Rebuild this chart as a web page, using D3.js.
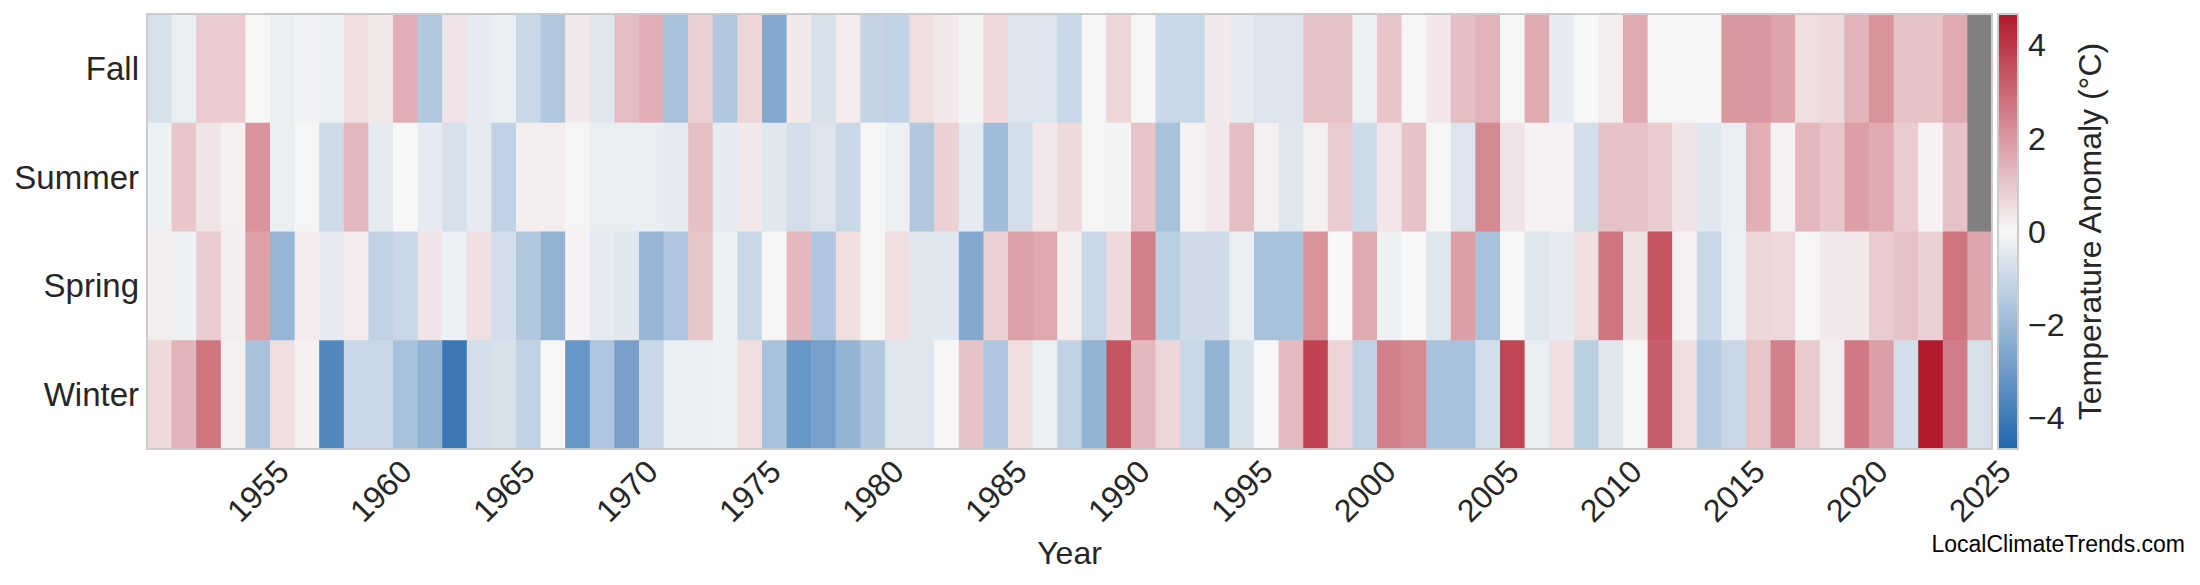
<!DOCTYPE html>
<html>
<head>
<meta charset="UTF-8">
<script src="https://cdn.jsdelivr.net/npm/d3@7"></script>
<style>
  body{margin:0;background:#fff;}
  text{font-family:"Liberation Sans",Arial,sans-serif;fill:#262626;}
</style>
</head>
<body>
<svg id="chart" width="2200" height="585"></svg>
<script>
// years 1951..2025
var years = d3.range(1951, 2026);
var seasons = ["Fall", "Summer", "Spring", "Winter"];
var tickYears = [1955,1960,1965,1970,1975,1980,1985,1990,1995,2000,2005,2010,2015,2020,2025];
var cbTicks = [-4,-2,0,2,4];

// anomalies (°C), one value per year, null = no data
var fall = [-0.7,-0.3,0.9,0.9,0,-0.3,-0.15,-0.2,0.5,0.3,1.5,-1.5,0.4,-0.4,-0.3,-1.0,-1.5,0.3,-0.5,
  1.2,1.5,-1.7,0.8,-1.5,0.7,-2.5,0.3,-0.7,0.25,-1.1,-1.2,0.5,0.3,-0.1,0.6,-0.6,-0.6,-1.0,
  -0.05,0.7,-0.05,-1.0,-1.0,0.3,-0.4,-0.6,-0.6,1.1,1.1,-0.25,1.05,0.05,0.35,1.2,1.4,-0.05,1.6,
  -0.4,0,0.2,1.6,-0.05,-0.05,-0.05,2.0,2.0,1.75,0.55,0.6,1.4,2.1,1.1,1.1,1.6,null];
var summer = [-0.2,1.0,0.4,0.15,2.1,-0.3,-0.05,-0.9,1.3,-0.4,0,-0.4,-0.7,-0.4,-1.2,0.2,0.2,-0.05,-0.3,
  -0.3,-0.3,-0.4,1.15,-0.4,0.3,-0.5,-0.8,-0.6,-1.0,0.05,-0.25,-1.5,0.8,-0.4,-1.9,-0.8,0.3,0.6,
  -0.05,-0.1,1.05,-1.7,0.1,0.3,1.2,0.15,-0.55,0.15,0.9,-0.9,0.35,1.1,-0.05,-0.6,2.3,0.4,0.1,
  0.1,-0.8,1.1,1.1,0.9,0.4,-0.5,-0.3,1.5,0.1,1.35,1.0,1.85,1.6,0.9,0.1,1.1,null];
var spring = [0.2,-0.2,0.9,0.2,1.8,-2.1,0.25,-0.4,0.25,-1.2,-1.0,0.4,-0.25,0.5,-0.8,-1.5,-2.2,0.1,-0.4,
  -0.5,-2.1,-1.6,1.0,-0.2,-1.0,-0.05,1.3,-1.6,0.5,-0.05,0.5,-0.5,-0.5,-2.5,0.8,1.8,1.65,0.2,
  -1.0,0.6,2.5,-1.3,-0.85,-0.85,-0.3,-1.7,-1.7,2.1,0,1.6,-0.2,0,-0.55,1.85,-1.7,0,-0.55,
  -0.4,0.5,2.7,0.45,3.4,0.1,-1.0,-0.25,0.7,0.65,-0.05,0.3,0.3,0.9,1.1,0.8,2.7,1.7];
var winter = [0.6,1.4,2.7,0.15,-1.7,0.5,0.15,-3.6,-1.0,-1.0,-1.7,-2.2,-4.1,-0.8,-0.7,-1.2,0,-3.1,-1.6,
  -2.8,-1.0,-0.3,-0.3,-0.2,0.5,-1.7,-3.1,-2.8,-2.2,-1.5,-0.55,-0.55,-0.05,1.1,-1.6,0.55,-0.25,-1.2,
  -2.2,3.4,1.3,0.7,-1.0,-2.2,-0.7,0,1.25,3.75,0.75,-1.2,2.5,2.3,-1.7,-1.7,-0.8,3.7,-0.3,
  0.5,-1.3,-0.55,-0.05,3.2,0.5,-1.4,-1.0,1.0,2.5,0.95,0.2,2.65,1.85,-0.8,4.6,2.55,-0.7];
var seriesBySeason = {Fall: fall, Summer: summer, Spring: spring, Winter: winter};

var vmax = 4.67;
var margin = {left:147, top:14, right:1992, bottom:449};

var svg = d3.select("#chart");
var x = d3.scaleBand().domain(years).range([margin.left, margin.right]);
var y = d3.scaleBand().domain(seasons).range([margin.top, margin.bottom]);
var color = d3.scaleLinear().domain([-vmax, 0, vmax])
    .range(["#2166ac", "#f7f7f7", "#b2182b"]).clamp(true);

var cells = [];
seasons.forEach(function(s){
    seriesBySeason[s].forEach(function(v, i){
        cells.push({season:s, year:years[i], value:v});
    });
});

svg.append("g").selectAll("rect").data(cells).enter().append("rect")
    .attr("x", function(d){ return x(d.year); })
    .attr("y", function(d){ return y(d.season); })
    .attr("width", x.bandwidth() + 0.6)
    .attr("height", y.bandwidth() + 0.6)
    .attr("fill", function(d){ return d.value === null ? "#808080" : color(d.value); });

svg.append("rect")
    .attr("x", margin.left).attr("y", margin.top)
    .attr("width", margin.right - margin.left).attr("height", margin.bottom - margin.top)
    .attr("fill", "none").attr("stroke", "#cccccc").attr("stroke-width", 2);

// y labels
svg.append("g").selectAll("text").data(seasons).enter().append("text")
    .attr("x", margin.left - 8)
    .attr("y", function(d){ return y(d) + y.bandwidth() / 2; })
    .attr("dy", "0.35em")
    .attr("text-anchor", "end")
    .style("font-size", "33px")
    .text(function(d){ return d; });

// x tick labels, rotated
svg.append("g").selectAll("text").data(tickYears).enter().append("text")
    .attr("transform", function(d){
        return "translate(" + (x(d) + x.bandwidth() / 2) + "," + 491 + ") rotate(-45)";
    })
    .attr("text-anchor", "middle")
    .attr("dy", "0.35em")
    .style("font-size", "32px")
    .text(function(d){ return d; });

svg.append("text")
    .attr("x", (margin.left + margin.right) / 2)
    .attr("y", 564)
    .attr("text-anchor", "middle")
    .style("font-size", "32px")
    .text("Year");

// colorbar
var cbX = 1998, cbW = 20;
var cy = d3.scaleLinear().domain([-vmax, vmax]).range([margin.bottom, margin.top]);
var defs = svg.append("defs");
var grad = defs.append("linearGradient").attr("id", "cb")
    .attr("x1", 0).attr("y1", 1).attr("x2", 0).attr("y2", 0);
d3.range(0, 1.0001, 0.05).forEach(function(t){
    grad.append("stop").attr("offset", t).attr("stop-color", color(-vmax + 2 * vmax * t));
});
svg.append("rect").attr("x", cbX).attr("y", margin.top)
    .attr("width", cbW).attr("height", margin.bottom - margin.top)
    .attr("fill", "url(#cb)").attr("stroke", "#cccccc").attr("stroke-width", 2);

svg.append("g").selectAll("text").data(cbTicks).enter().append("text")
    .attr("x", cbX + cbW + 10)
    .attr("y", function(d){ return cy(d); })
    .attr("dy", "0.35em")
    .style("font-size", "32px")
    .text(function(d){ return d < 0 ? "\u2212" + Math.abs(d) : d; });

svg.append("text")
    .attr("transform", "translate(2090," + ((margin.top + margin.bottom) / 2) + ") rotate(-90)")
    .attr("text-anchor", "middle")
    .attr("dy", "0.35em")
    .style("font-size", "32px")
    .text("Temperature Anomaly (\u00b0C)");

svg.append("text")
    .attr("x", 2185).attr("y", 552)
    .attr("text-anchor", "end")
    .style("font-size", "23px")
    .style("fill", "#000")
    .text("LocalClimateTrends.com");
</script>
</body>
</html>
